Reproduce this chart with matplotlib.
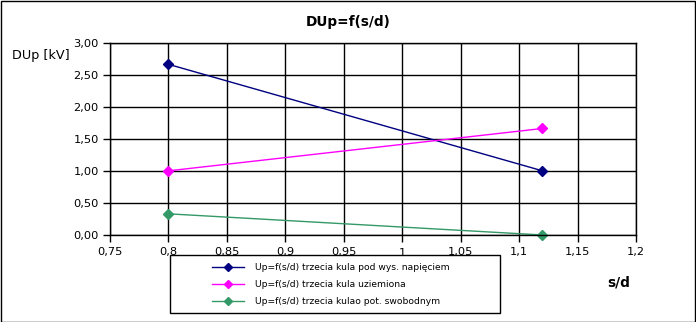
import matplotlib.pyplot as plt
from matplotlib.patches import Rectangle
from matplotlib.ticker import FixedLocator, FuncFormatter

# s/d values and measured voltages
s_d = [0.8, 1.12]
up_hv = [2.66, 1.00]
up_ground = [1.00, 1.66]
up_free = [0.33, 0.00]

labels = [
    "Up=f(s/d) trzecia kula pod wys. napięciem",
    "Up=f(s/d) trzecia kula uziemiona",
    "Up=f(s/d) trzecia kulao pot. swobodnym",
]
colors = ["#000080", "#FF00FF", "#339966"]

x_ticks = [0.75, 0.8, 0.85, 0.9, 0.95, 1.0, 1.05, 1.1, 1.15, 1.2]
y_ticks = [0.0, 0.5, 1.0, 1.5, 2.0, 2.5, 3.0]

plt.rcParams["font.family"] = "DejaVu Sans"

W, H = 696, 322
fig = plt.figure(figsize=(W / 100, H / 100), dpi=100)
ax = fig.add_axes([110 / W, 1 - 235 / H, (636 - 110) / W, (235 - 42.5) / H])

for ys, lab, col in zip([up_hv, up_ground, up_free], labels, colors):
    ax.plot(s_d, ys, color=col, lw=1, marker="D", ms=5.5, label=lab, clip_on=False)

ax.set_xlim(0.75, 1.2)
ax.set_ylim(0, 3)
ax.xaxis.set_major_locator(FixedLocator(x_ticks))
ax.yaxis.set_major_locator(FixedLocator(y_ticks))
ax.xaxis.set_major_formatter(FuncFormatter(lambda v, p: f"{v:g}".replace(".", ",")))
ax.yaxis.set_major_formatter(FuncFormatter(lambda v, p: f"{v:.2f}".replace(".", ",")))
ax.tick_params(labelsize=8.2, length=5, width=1, color="black", pad=3)
ax.tick_params(axis="x", pad=4)
ax.grid(True, color="black", lw=1)
for sp in ax.spines.values():
    sp.set_linewidth(1)

fig.text(348 / W, 1 - 22 / H, "DUp=f(s/d)", ha="center", va="center",
         fontsize=9.8, fontweight="bold")
fig.text(12 / W, 1 - 55 / H, "DUp [kV]", ha="left", va="center", fontsize=9.2)
fig.text(607 / W, 1 - 282 / H, "s/d", ha="left", va="center",
         fontsize=9.8, fontweight="bold")

# legend box drawn separately, entries placed inside it
fig.patches.append(Rectangle((170 / W, 1 - 313 / H), 330 / W, 58 / H,
                             transform=fig.transFigure, fill=False,
                             edgecolor="black", lw=1))
leg = fig.legend(loc="upper left", bbox_to_anchor=(212 / W, 1 - 263 / H),
                 fontsize=6.6, frameon=False, borderaxespad=0, borderpad=0,
                 handlelength=3.5, labelspacing=0.88, handletextpad=1.2,
                 markerscale=0.75)

# outer frame around the chart
fig.patches.append(Rectangle((0.5 / W, 0.5 / H), 694.5 / W, 320.5 / H,
                             transform=fig.transFigure, fill=False,
                             edgecolor="black", lw=1))

fig.savefig("out.png", dpi=100)
